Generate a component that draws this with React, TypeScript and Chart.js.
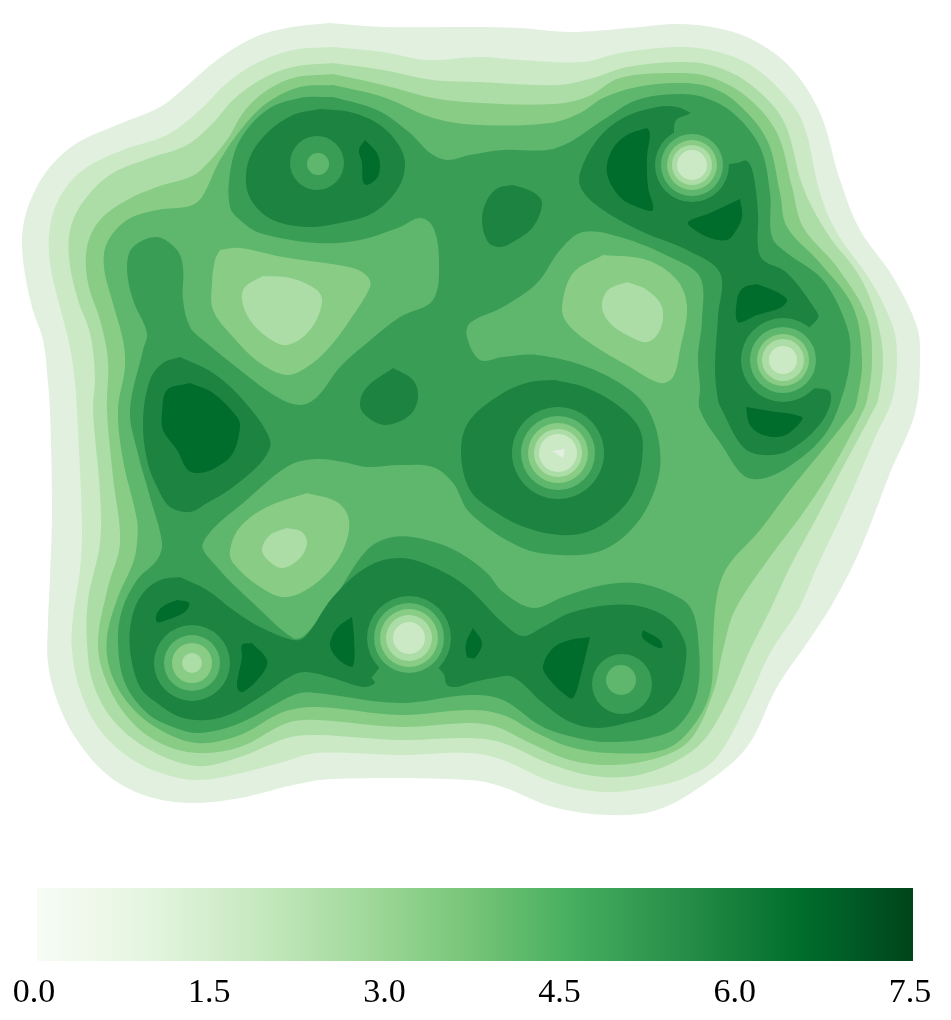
import React, { useEffect, useRef } from "react";
import { Chart, registerables } from "chart.js";

Chart.register(...registerables);

type P = number[];

// Colour bar
const barTicks = [0, 1.5, 3, 4.5, 6, 7.5];
const barMax = 7.5;
const greens = ["#f7fcf5", "#e5f5e0", "#c7e9c0", "#a1d99b", "#74c476", "#41ab5d", "#238b45", "#006d2c", "#00441b"];

// Level colours
const L1 = "#e1f0df";
const L2 = "#cbe9c5";
const L3 = "#acdda6";
const L4 = "#89cc86";
const L5 = "#5eb76c";
const L6 = "#3a9d56";
const L7 = "#1d8341";
const L8 = "#006d2c";

// Nested outer contours
const outer1: P[] = [[330,23],[287,28],[253,38],[217,60],[190,83],[160,107],[117,125],[77,143],[50,167],[32,197],[23,227],[23,260],[32,307],[43,340],[48,383],[50,410],[52,510],[50,577],[48,623],[48,663],[57,700],[77,740],[110,777],[150,797],[193,803],[240,798],[293,785],[333,779],[470,780],[503,787],[553,807],[610,815],[657,810],[703,785],[747,747],[777,687],[807,643],[833,603],[860,550],[890,473],[915,413],[920,360],[917,327],[893,277],[860,230],[840,180],[820,113],[790,67],[753,40],[717,28],[677,24],[630,28],[570,32],[520,28],[470,27],[383,27],[330,23]];
const outer2: P[] = [[333,47],[383,52],[427,60],[480,57],[520,60],[583,62],[620,53],[677,47],[710,50],[747,63],[780,90],[803,123],[820,193],[837,233],[870,280],[893,327],[897,360],[892,400],[877,433],[847,503],[817,567],[798,610],[770,653],[747,703],[717,757],[687,777],[650,787],[603,792],[553,782],[503,760],[470,753],[400,755],[317,753],[283,762],[233,775],[197,780],[167,775],[133,760],[100,730],[80,690],[72,650],[73,617],[80,570],[82,527],[77,410],[75,383],[70,347],[60,307],[50,263],[50,227],[60,197],[83,170],[123,150],[167,135],[200,110],[227,83],[257,63],[293,50],[333,47]];
const outer3: P[] = [[333,63],[383,70],[433,80],[480,82],[557,85],[593,78],[627,67],[677,62],[710,65],[747,82],[783,120],[803,187],[827,233],[860,277],[877,320],[883,360],[878,400],[872,413],[843,467],[817,517],[790,567],[770,610],[750,650],[723,710],[697,747],[650,772],[603,777],[553,765],[503,743],[470,738],[400,740],[317,735],[287,738],[240,757],[197,766],[150,750],[113,720],[93,683],[87,643],[88,600],[100,543],[100,493],[93,410],[95,377],[90,333],[78,300],[69,257],[72,223],[90,193],[113,173],[150,158],[187,145],[213,123],[233,100],[260,80],[293,67],[333,63]];
const outer4: P[] = [[333,74],[383,85],[433,98],[480,103],[553,104],[587,97],[620,78],[677,73],[710,77],[747,97],[777,133],[792,187],[803,227],[837,267],[867,317],[872,360],[867,400],[860,417],[833,467],[803,513],[770,557],[735,610],[723,650],[713,693],[690,740],[657,758],[610,765],[570,760],[530,743],[497,727],[470,723],[400,727],[317,720],[287,723],[240,747],[197,753],[160,743],[130,720],[107,683],[98,643],[108,587],[120,543],[113,477],[107,410],[108,360],[100,320],[88,283],[87,247],[100,220],[127,200],[157,187],[190,177],[203,168],[227,140],[243,113],[263,93],[293,78],[333,74]];
const outer5: P[] = [[333,85],[383,97],[433,118],[480,125],[550,123],[580,113],[603,98],[637,87],[677,83],[710,87],[737,103],[767,140],[780,193],[787,227],[820,263],[853,307],[862,360],[857,400],[852,413],[790,490],[760,530],[730,563],[720,583],[715,610],[713,643],[710,693],[690,730],[663,750],[610,753],[570,747],[537,733],[503,715],[470,710],[400,715],[317,707],[283,712],[240,735],[197,743],[157,728],[128,703],[110,670],[107,637],[118,597],[133,563],[137,543],[137,520],[123,460],[118,410],[125,367],[123,340],[112,300],[104,267],[107,243],[127,220],[157,210],[190,206],[202,197],[220,160],[243,127],[267,103],[300,87],[333,85]];
const outer6: P[] = [[333,97],[377,110],[410,133],[430,153],[447,160],[470,155],[503,150],[547,150],[570,142],[603,120],[637,100],[677,94],[703,97],[733,113],[760,147],[770,193],[772,237],[787,253],[823,280],[847,327],[850,360],[840,403],[823,437],[787,468],[760,479],[743,475],[723,447],[700,410],[700,387],[698,357],[702,320],[700,277],[670,257],[620,237],[583,232],[560,250],[537,283],[503,307],[470,323],[467,337],[480,360],[503,357],[537,355],[587,367],[630,390],[650,413],[660,450],[657,483],[637,523],[603,550],[560,555],[520,547],[470,513],[453,483],[433,467],[400,465],[367,467],[343,462],[317,459],[290,465],[250,497],[203,543],[217,567],[253,603],[293,638],[305,635],[333,600],[367,550],[393,537],[427,540],[460,553],[487,573],[503,592],[533,608],[563,597],[603,585],[637,583],[670,593],[690,607],[698,637],[697,693],[677,727],[650,738],[617,742],[587,740],[543,727],[503,700],[470,695],[400,703],[317,693],[300,693],[283,700],[240,723],[200,733],[173,727],[147,713],[125,683],[118,643],[122,610],[137,580],[157,560],[162,543],[150,497],[137,450],[130,410],[143,350],[147,333],[133,300],[127,267],[133,247],[157,237],[177,250],[183,267],[183,300],[190,327],[203,340],[240,370],[277,397],[300,405],[317,397],[340,367],[367,343],[400,317],[433,300],[439,260],[433,227],[420,218],[400,227],[360,240],[317,243],[260,233],[240,220],[230,207],[230,173],[240,140],[267,110],[300,98],[333,97]];

// Light patches
const patch4a: P[] = [[220,250],[240,248],[283,257],[353,268],[368,277],[370,287],[350,320],[327,350],[307,367],[287,375],[260,363],[233,337],[213,310],[212,283],[215,260],[220,250]];
const patch3a: P[] = [[263,276],[290,278],[317,290],[322,303],[310,330],[287,345],[267,337],[250,320],[242,300],[245,287],[263,276]];
const patch4b: P[] = [[603,255],[647,260],[677,280],[687,307],[680,350],[673,377],[660,383],[630,367],[590,343],[567,323],[562,307],[573,273],[603,255]];
const patch3b: P[] = [[627,282],[647,290],[662,307],[660,330],[647,342],[627,335],[610,323],[602,307],[608,290],[627,282]];
const patch4c: P[] = [[307,493],[337,502],[349,520],[343,550],[320,580],[287,597],[260,587],[233,563],[230,550],[240,527],[267,507],[307,493]];
const patch3c: P[] = [[287,528],[302,532],[307,543],[300,558],[283,568],[270,562],[262,550],[270,535],[287,528]];

// Dark regions (level 7)
const dark7a: P[] = [[320,109],[350,112],[380,125],[400,147],[405,167],[397,190],[373,213],[340,223],[307,227],[273,220],[253,203],[246,183],[250,157],[267,133],[293,115],[320,109]];
const dark7b: P[] = [[180,357],[213,373],[243,400],[270,440],[263,460],[233,487],[207,503],[190,512],[170,507],[157,487],[147,460],[143,420],[150,380],[163,363],[180,357]];
const dark7c: P[] = [[393,368],[413,380],[418,397],[410,415],[385,425],[365,415],[360,403],[367,387],[393,368]];
const dark7d: P[] = [[513,185],[533,192],[542,203],[533,227],[513,242],[500,247],[488,242],[482,220],[487,200],[498,188],[513,185]];
const dark7e: P[] = [[691,113],[677,107],[657,107],[623,118],[597,140],[580,173],[582,190],[603,210],[643,232],[687,250],[720,273],[718,317],[715,367],[718,400],[722,410],[743,447],[763,455],[790,450],[823,420],[830,392],[805,385],[810,360],[800,340],[818,318],[817,312],[787,273],[763,260],[758,247],[758,213],[753,173],[747,161],[737,163],[712,165],[680,150],[675,122],[691,113]];
const dark7f: P[] = [[555,380],[587,388],[620,407],[640,430],[642,460],[633,493],[613,517],[587,532],[560,535],[527,528],[497,513],[470,490],[461,450],[470,420],[503,393],[530,382],[555,380]];
const dark7g: P[] = [[180,577],[207,590],[233,610],[260,627],[293,640],[305,637],[333,597],[367,567],[400,558],[433,567],[467,587],[503,623],[523,636],[543,627],[570,613],[610,605],[643,607],[670,620],[685,643],[685,667],[677,693],[657,713],[630,722],[597,728],[570,722],[543,703],[513,677],[493,678],[470,683],[457,687],[447,685],[443,673],[410,643],[372,677],[375,683],[363,687],[333,678],[307,672],[293,675],[260,697],[233,713],[207,720],[180,717],[157,703],[140,687],[130,650],[132,617],[143,593],[160,580],[180,577]];

// Darkest regions (level 8)
const dark8a: P[] = [[365,140],[377,153],[380,167],[377,178],[367,185],[363,182],[362,163],[359,150],[365,140]];
const dark8b: P[] = [[190,383],[213,393],[237,417],[240,427],[233,453],[217,467],[200,473],[188,470],[177,450],[163,430],[162,413],[167,390],[190,383]];
const dark8c: P[] = [[647,128],[650,133],[647,157],[648,187],[653,210],[640,208],[620,197],[607,173],[612,150],[627,135],[647,128]];
const dark8d: P[] = [[740,199],[742,217],[735,232],[727,240],[710,238],[692,228],[688,222],[710,213],[740,199]];
const dark8e: P[] = [[757,284],[777,292],[787,300],[780,308],[757,315],[738,322],[737,300],[743,288],[757,284]];
const dark8f: P[] = [[746,407],[770,411],[802,417],[798,425],[783,436],[763,435],[750,425],[746,407]];
const dark8g: P[] = [[177,600],[189,603],[185,612],[167,620],[157,622],[157,613],[165,605],[177,600]];
const dark8h: P[] = [[252,643],[267,660],[263,673],[243,692],[237,687],[242,657],[242,645],[252,643]];
const dark8i: P[] = [[352,617],[354,637],[353,666],[343,663],[333,653],[330,643],[338,627],[352,617]];
const dark8j: P[] = [[473,628],[482,643],[475,658],[470,658],[467,657],[466,643],[473,628]];
const dark8k: P[] = [[590,637],[582,670],[573,698],[563,693],[550,680],[543,667],[553,648],[570,640],[590,637]];
const dark8l: P[] = [[643,630],[660,640],[662,648],[652,645],[642,637],[643,630]];

const peakCore: P[] = [[552,451],[565,449],[563,458],[552,451]];

// Ring discs around the peaks: x, y, radius
const rings6: P[] = [[317,163,27],[692,165,37],[783,360,42],[558,453,46],[409,638,42],[192,663,38],[622,684,30]];
const rings5: P[] = [[318,164,11],[692,165,31],[783,360,33],[558,453,37],[409,638,35],[192,663,28],[621,680,15]];
const rings4: P[] = [[692,165,25],[783,360,26],[558,453,30],[409,638,29],[192,663,20]];
const rings3: P[] = [[692,165,20],[783,360,21],[558,453,24],[409,638,23],[192,663,10]];
const rings2: P[] = [[692,165,15],[783,360,14],[558,453,19],[409,638,16]];

const shapes: [P[], string][] = [
  [outer1, L1], [outer2, L2], [outer3, L3], [outer4, L4], [outer5, L5], [outer6, L6],
  [patch4a, L4], [patch3a, L3], [patch4b, L4], [patch3b, L3], [patch4c, L4], [patch3c, L3],
  [dark7a, L7], [dark7b, L7], [dark7c, L7], [dark7d, L7], [dark7e, L7], [dark7f, L7], [dark7g, L7],
  [dark8a, L8], [dark8b, L8], [dark8c, L8], [dark8d, L8], [dark8e, L8], [dark8f, L8],
  [dark8g, L8], [dark8h, L8], [dark8i, L8], [dark8j, L8], [dark8k, L8], [dark8l, L8],
];
const discs: [P[], string][] = [[rings6, L6], [rings5, L5], [rings4, L4], [rings3, L3], [rings2, L2]];

export default function App() {
  const mapRef = useRef<HTMLCanvasElement>(null);
  const barRef = useRef<HTMLCanvasElement>(null);

  useEffect(() => {
    const total = shapes.length + discs.length + 1;
    let n = 0;
    const datasets: any[] = [];
    for (const [pts, color] of shapes) {
      datasets.push({
        type: "scatter",
        data: pts.map(([x, y]) => ({ x, y })),
        showLine: true,
        fill: "shape",
        backgroundColor: color,
        borderColor: color,
        borderWidth: 0,
        pointRadius: 0,
        tension: 0.35,
        order: total - n++,
      });
    }
    for (const [pts, color] of discs) {
      datasets.push({
        type: "bubble",
        data: pts.map(([x, y, r]) => ({ x, y, r })),
        backgroundColor: color,
        borderColor: color,
        borderWidth: 0,
        order: total - n++,
      });
    }
    datasets.push({
      type: "scatter",
      data: peakCore.map(([x, y]) => ({ x, y })),
      showLine: true,
      fill: "shape",
      backgroundColor: L1,
      borderWidth: 0,
      pointRadius: 0,
      tension: 0,
      order: total - n++,
    });

    const map = new Chart(mapRef.current!, {
      type: "scatter",
      data: { datasets },
      options: {
        animation: false,
        responsive: false,
        layout: { padding: 0, autoPadding: false },
        plugins: { legend: { display: false }, tooltip: { enabled: false } },
        scales: {
          x: { type: "linear", min: 0, max: 951, display: false },
          y: { type: "linear", min: 0, max: 880, reverse: true, display: false },
        },
      },
    } as any);

    const bar = new Chart(barRef.current!, {
      type: "bar",
      data: {
        labels: ["scale"],
        datasets: [
          {
            data: [barMax],
            barPercentage: 1,
            categoryPercentage: 1,
            borderWidth: 0,
            backgroundColor: (c: any) => {
              const area = c.chart.chartArea;
              if (!area) return greens[4];
              const g = c.chart.ctx.createLinearGradient(area.left, 0, area.right, 0);
              greens.forEach((col, i) => g.addColorStop(i / (greens.length - 1), col));
              return g;
            },
          },
        ],
      },
      options: {
        indexAxis: "y",
        animation: false,
        responsive: false,
        layout: { padding: { left: 37, right: 38, top: 18, bottom: 0 } },
        plugins: { legend: { display: false }, tooltip: { enabled: false } },
        scales: {
          y: { display: false },
          x: {
            type: "linear",
            min: 0,
            max: barMax,
            grid: { display: false },
            border: { display: false },
            afterBuildTicks: (s: any) => {
              s.ticks = barTicks.map((value) => ({ value }));
            },
            afterFit: (s: any) => {
              s.height = 59;
            },
            ticks: {
              autoSkip: false,
              maxRotation: 0,
              padding: 4,
              labelOffset: -3,
              color: "#000000",
              font: { family: "'Liberation Serif'", size: 34 },
              callback: (v: any) => Number(v).toFixed(1),
            },
          },
        },
      },
    } as any);

    return () => {
      map.destroy();
      bar.destroy();
    };
  }, []);

  return (
    <div style={{ position: "absolute", left: 0, top: 0, width: 951, height: 1020 }}>
      <canvas ref={mapRef} width={951} height={880} style={{ position: "absolute", left: 0, top: 0, display: "block" }} />
      <canvas ref={barRef} width={951} height={150} style={{ position: "absolute", left: 0, top: 870, display: "block" }} />
    </div>
  );
}
